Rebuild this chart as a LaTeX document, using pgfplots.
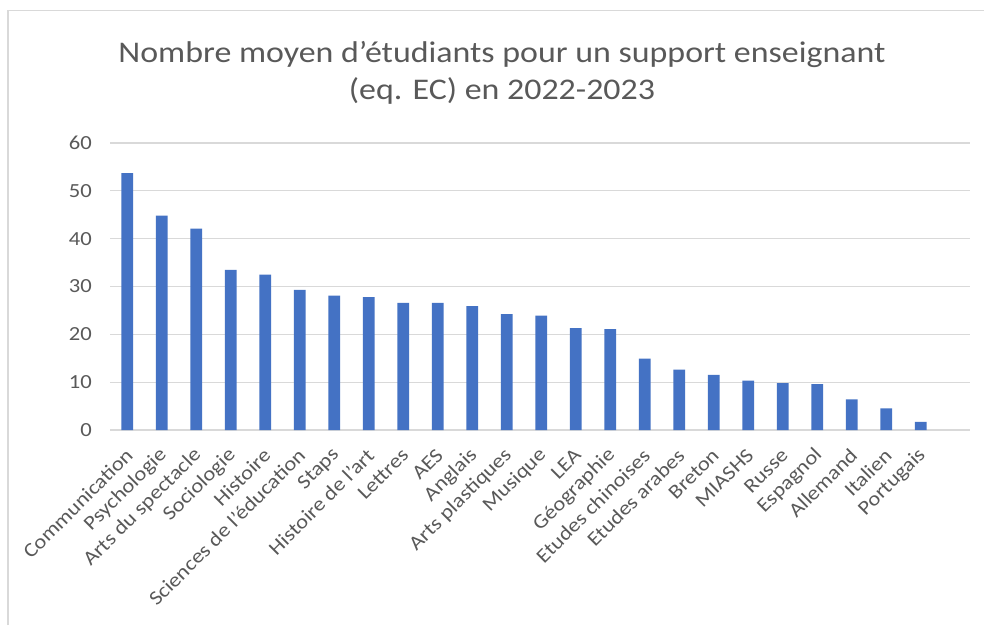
\documentclass[border=0pt]{standalone}
\usepackage{pgfplots}
\pgfplotsset{compat=1.18}
\usepackage{pgfplotstable}
\usepackage{fontspec}
\setmainfont[FakeStretch=1.13]{Carlito}
\definecolor{barblue}{HTML}{4472C4}
\definecolor{gridgray}{HTML}{D9D9D9}
\definecolor{txtgray}{HTML}{595959}
\pgfplotstableread{
x y
0 53.7
1 44.8
2 42.1
3 33.5
4 32.5
5 29.3
6 28.1
7 27.8
8 26.6
9 26.6
10 25.9
11 24.2
12 23.9
13 21.3
14 21.1
15 14.9
16 12.6
17 11.5
18 10.3
19 9.8
20 9.6
21 6.4
22 4.5
23 1.7
}\data
\begin{document}
\begin{tikzpicture}[x=1pt,y=1pt]
\useasboundingbox (0,0) rectangle (984,625);
\fill[white] (0,0) rectangle (984,625);
\draw[gridgray, line width=1.5pt] (8,0) -- (8,614.5) -- (984,614.5);
\node[anchor=base, text=txtgray, font=\fontsize{30}{36}\selectfont, inner sep=0pt] at (502,562) {Nombre moyen d'étudiants pour un support enseignant};
\node[anchor=base, text=txtgray, font=\fontsize{30}{36}\selectfont, inner sep=0pt] at (502,525) {(eq. EC) en 2022-2023};
\begin{axis}[
  at={(110pt,195pt)}, anchor=south west,
  scale only axis, width=860pt, height=287pt,
  xmin=-0.5, xmax=24.43, ymin=0, ymax=60,
  ytick={0,10,...,60},
  xtick={0,...,23},
  xticklabels={Communication,Psychologie,Arts du spectacle,Sociologie,Histoire,{Sciences de l'éducation},Staps,{Histoire de l'art},Lettres,AES,Anglais,Arts plastiques,Musique,LEA,Géographie,Etudes chinoises,Etudes arabes,Breton,MIASHS,Russe,Espagnol,Allemand,Italien,Portugais},
  ymajorgrids, grid style={gridgray, line width=1.3pt},
  axis line style={draw=none},
  major tick length=0pt,
  /pgf/number format/assume math mode=true,
  yticklabel style={text=txtgray, font=\fontsize{20}{24}\selectfont, inner sep=0pt, anchor=east, xshift=-18pt},
  xticklabel style={text=txtgray, font=\fontsize{20}{24}\selectfont, inner sep=0pt, xshift=2pt, yshift=-22pt, rotate=45, anchor=east},
  clip=false,
]
\addplot[ybar, bar width=11.7pt, fill=barblue, draw=none] table[x=x,y=y] {\data};
\end{axis}
\end{tikzpicture}
\end{document}
